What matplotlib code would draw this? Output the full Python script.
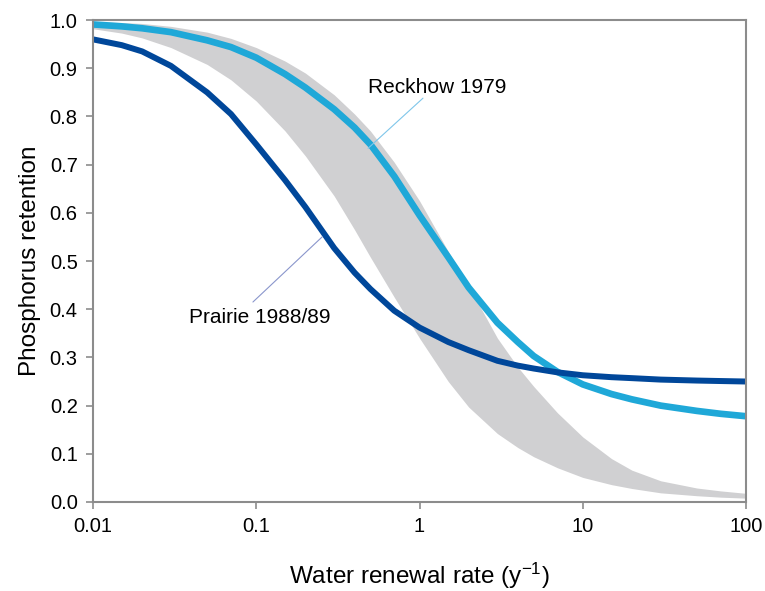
import numpy as np
import matplotlib
matplotlib.use('Agg')
import matplotlib.pyplot as plt

plt.rcParams['font.family'] = ['Liberation Sans', 'DejaVu Sans']
plt.rcParams['mathtext.fontset'] = 'custom'
plt.rcParams['mathtext.rm'] = 'Liberation Sans'
plt.rcParams['mathtext.it'] = 'Liberation Sans:italic'

# water renewal rate (1/y)
rate = [0.01, 0.015, 0.02, 0.03, 0.05, 0.07, 0.1, 0.15, 0.2, 0.3, 0.4, 0.5, 0.7,
        1, 1.5, 2, 3, 4, 5, 7, 10, 15, 20, 30, 50, 70, 100]
# grey band (range of published models)
band_low = [0.982, 0.973, 0.963, 0.943, 0.908, 0.876, 0.832, 0.770, 0.718, 0.635,
            0.565, 0.508, 0.425, 0.340, 0.250, 0.197, 0.142, 0.113, 0.094, 0.071,
            0.051, 0.036, 0.028, 0.019, 0.013, 0.010, 0.008]
band_high = [0.997, 0.995, 0.993, 0.987, 0.975, 0.962, 0.943, 0.915, 0.890, 0.845,
             0.805, 0.770, 0.705, 0.625, 0.520, 0.448, 0.340, 0.280, 0.240, 0.185,
             0.135, 0.090, 0.066, 0.044, 0.029, 0.023, 0.018]
# Reckhow 1979
reckhow = [0.991, 0.987, 0.983, 0.975, 0.958, 0.944, 0.922, 0.888, 0.860, 0.815,
           0.777, 0.742, 0.676, 0.595, 0.508, 0.445, 0.372, 0.332, 0.303, 0.270,
           0.244, 0.224, 0.213, 0.200, 0.189, 0.183, 0.178]
# Prairie 1988/89
prairie = [0.960, 0.948, 0.935, 0.905, 0.850, 0.805, 0.742, 0.668, 0.612, 0.527,
           0.476, 0.442, 0.397, 0.362, 0.332, 0.315, 0.293, 0.283, 0.277, 0.269,
           0.263, 0.259, 0.257, 0.254, 0.252, 0.251, 0.250]

xticks = [0.01, 0.1, 1, 10, 100]
xtick_labels = ['0.01', '0.1', '1', '10', '100']
yticks = np.round(np.arange(0, 1.01, 0.1), 1)

fig = plt.figure(figsize=(7.65, 5.91), dpi=100)
ax = fig.add_axes([0.1216, 0.1506, 0.8536, 0.8154])

ax.fill_between(rate, band_low, band_high, color='#d0d0d2', lw=0)
ax.plot(rate, reckhow, color='#1fa8d8', lw=4.8, solid_capstyle='butt')
ax.plot(rate, prairie, color='#00479a', lw=4.3, solid_capstyle='butt')

ax.set_xscale('log')
ax.set_xlim(0.01, 100)
ax.set_ylim(0, 1)
ax.set_xticks(xticks)
ax.set_xticklabels(xtick_labels)
ax.minorticks_off()
ax.set_yticks(yticks)
ax.set_yticklabels(['%.1f' % v for v in yticks])

for s in ax.spines.values():
    s.set_color('#8c8c8c')
    s.set_linewidth(1.5)
ax.tick_params(direction='out', length=5, width=1.2, color='#8c8c8c',
               labelsize=14.5, pad=6)

ax.set_xlabel('Water renewal rate (y$^{-1}$)', fontsize=17.5, labelpad=18)
ax.set_ylabel('Phosphorus retention', fontsize=17.5, labelpad=6)

# labels with thin pointer lines
ax.text(1.28, 0.861, 'Reckhow 1979', fontsize=15, ha='center', va='center')
ax.annotate('', xy=(0.484, 0.734), xytext=(1.05, 0.838),
            arrowprops=dict(arrowstyle='-', color='#7fc6ea', lw=0.8,
                            shrinkA=0, shrinkB=0))
ax.text(0.1054, 0.382, 'Prairie 1988/89', fontsize=15, ha='center', va='center')
ax.annotate('', xy=(0.253, 0.55), xytext=(0.0954, 0.415),
            arrowprops=dict(arrowstyle='-', color='#8a96cc', lw=0.8,
                            shrinkA=0, shrinkB=0))

fig.savefig('out.png', dpi=100)
